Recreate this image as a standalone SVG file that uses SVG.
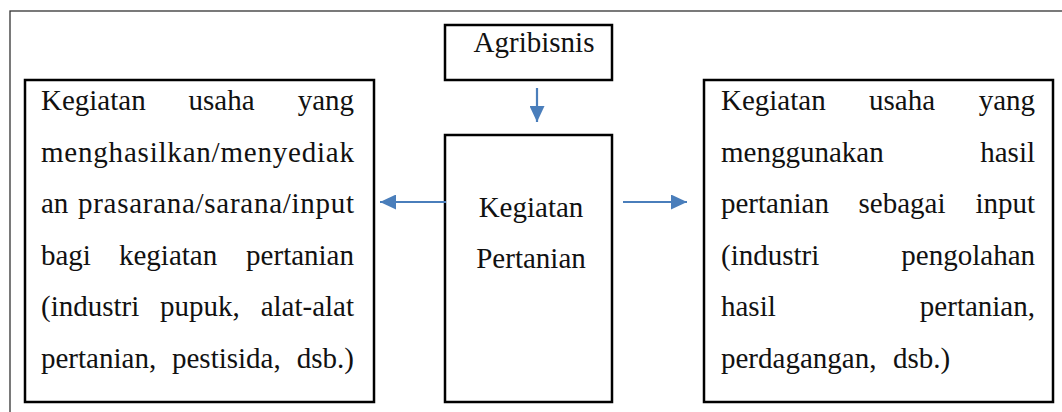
<svg xmlns="http://www.w3.org/2000/svg" width="1062" height="412" viewBox="0 0 1062 412">
<defs>
<marker id="ah" viewBox="0 0 16 15" refX="16" refY="7.5" markerWidth="16" markerHeight="15" markerUnits="userSpaceOnUse" orient="auto"><polygon points="0,0 16,7.5 0,15" fill="#4A7EBB"/></marker>
</defs>
<rect x="10" y="11" width="1060" height="410" fill="none" stroke="#333" stroke-width="1.3"/>
<g font-family="'Liberation Serif', serif" font-size="29" fill="#111">
<g id="agribisnis">
<rect x="445" y="25" width="167" height="55" fill="#fff" stroke="#000" stroke-width="2.5"/>
<text x="534" y="52" text-anchor="middle">Agribisnis</text>
</g>
<g id="kegiatan-pertanian">
<rect x="445" y="135" width="167" height="267" fill="#fff" stroke="#000" stroke-width="2.5"/>
<text x="531" y="217" text-anchor="middle">Kegiatan</text>
<text x="531" y="268" text-anchor="middle">Pertanian</text>
</g>
<g id="hulu">
<rect x="25" y="80" width="349" height="322" fill="#fff" stroke="#000" stroke-width="2.5"/>
<text x="41" y="110">Kegiatan</text><text x="188.5" y="110">usaha</text><text x="354" y="110" text-anchor="end">yang</text>
<text x="41" y="161.5" textLength="313" lengthAdjust="spacing">menghasilkan/menyediak</text>
<text x="41" y="213">an</text><text x="78" y="213" textLength="276" lengthAdjust="spacing">prasarana/sarana/input</text>
<text x="41" y="264.5">bagi</text><text x="119" y="264.5">kegiatan</text><text x="354" y="264.5" text-anchor="end">pertanian</text>
<text x="41" y="316">(industri</text><text x="160" y="316">pupuk,</text><text x="354" y="316" text-anchor="end">alat-alat</text>
<text x="41" y="367.5">pertanian,</text><text x="172" y="367.5">pestisida,</text><text x="354" y="367.5" text-anchor="end">dsb.)</text>
</g>
<g id="hilir">
<rect x="704" y="80" width="349" height="322" fill="#fff" stroke="#000" stroke-width="2.5"/>
<text x="721" y="110">Kegiatan</text><text x="869" y="110">usaha</text><text x="1035" y="110" text-anchor="end">yang</text>
<text x="721" y="161.5">menggunakan</text><text x="1035" y="161.5" text-anchor="end">hasil</text>
<text x="721" y="213">pertanian</text><text x="858.5" y="213">sebagai</text><text x="1035" y="213" text-anchor="end">input</text>
<text x="721" y="264.5">(industri</text><text x="1035" y="264.5" text-anchor="end">pengolahan</text>
<text x="721" y="316">hasil</text><text x="1035" y="316" text-anchor="end">pertanian,</text>
<text x="721" y="367.5">perdagangan,</text><text x="893" y="367.5">dsb.)</text>
</g>
</g>
<g id="connectors" stroke="#4A7EBB" stroke-width="2.2" fill="none">
<line x1="537" y1="88" x2="537" y2="122" marker-end="url(#ah)"/>
<line x1="446" y1="202" x2="380" y2="202" marker-end="url(#ah)"/>
<line x1="623" y1="202" x2="687" y2="202" marker-end="url(#ah)"/>
</g>
</svg>
